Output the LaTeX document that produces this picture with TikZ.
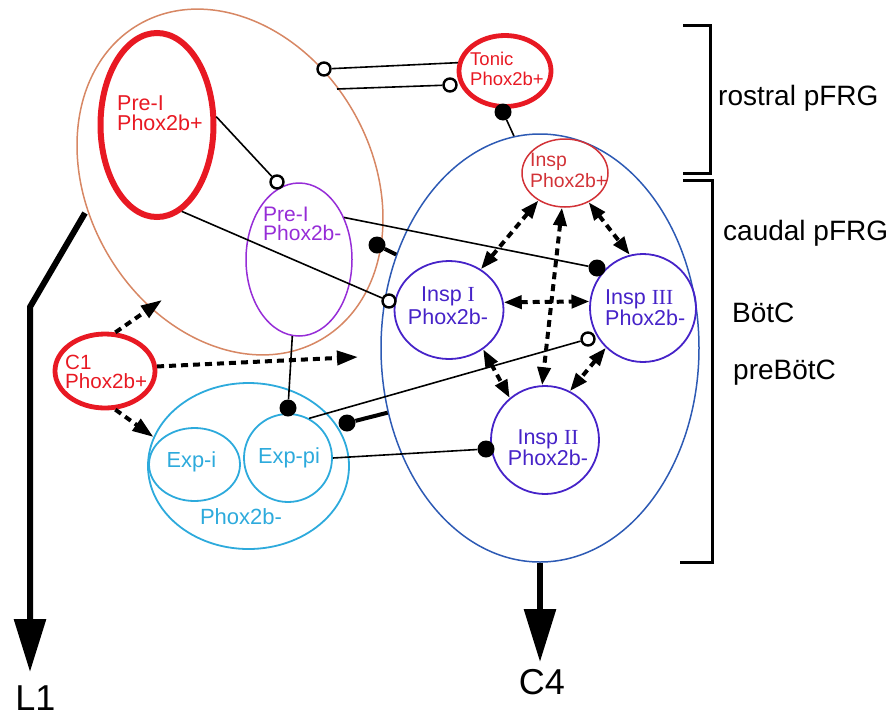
\documentclass[tikz,border=0pt]{standalone}
\usepackage{fontspec}
\setmainfont{Liberation Sans}
\newfontfamily\romfont{Liberation Serif}
\usetikzlibrary{shapes.geometric,arrows.meta}
\definecolor{cred}{RGB}{232,25,35}
\definecolor{corange}{RGB}{215,135,100}
\definecolor{cblue}{RGB}{45,90,180}
\definecolor{cindigo}{RGB}{70,35,200}
\definecolor{cpurple}{RGB}{150,45,215}
\definecolor{ccyan}{RGB}{45,170,220}
\definecolor{cired}{RGB}{210,50,55}
\begin{document}
\begin{tikzpicture}[x=1pt,y=-1pt,
  ell/.style={ellipse,inner sep=0pt,draw},
  thickred/.style={ell,draw=cred,line width=6pt},
  midred/.style={ell,draw=cred,line width=4.8pt},
  insp/.style={ell,draw=cindigo,line width=1.8pt},
  dotopen/.style={circle,draw=black,fill=white,line width=2.4pt,minimum size=13pt,inner sep=0pt},
  dotfill/.style={circle,fill=black,minimum size=17pt,inner sep=0pt},
  conn/.style={line width=1.6pt},
  stub/.style={line width=4pt},
  dasharr/.style={line width=4pt,dash pattern=on 7pt off 5pt,-{Triangle[length=21pt,width=14pt]}},
  dasharrb/.style={line width=4pt,dash pattern=on 7pt off 5pt,{Triangle[length=18pt,width=13pt]}-{Triangle[length=18pt,width=13pt]}},
  bigarr/.style={line width=6pt,-{Triangle[length=53pt,width=31pt]}},
  txt/.style={inner sep=0pt},
  side/.style={inner sep=0pt,anchor=west,font=\fontsize{28}{30}\selectfont},
  bracket/.style={line width=3pt}
]
\useasboundingbox (0,0) rectangle (896,718);

% region ellipses
\node[ell,draw=corange,line width=1.5pt,minimum width=284pt,minimum height=364pt,rotate=30] (preireg) at (230,182) {};
\node[ell,draw=cblue,line width=1.5pt,minimum width=318pt,minimum height=428pt] (blue) at (540,348) {};
\node[ell,draw=ccyan,line width=1.8pt,minimum width=201pt,minimum height=166pt] (cyan) at (248.5,466) {};

% cell groups
\node[thickred,minimum width=113pt,minimum height=184pt] (preip) at (157,125) {};
\node[midred,minimum width=92pt,minimum height=71pt] (tonic) at (505,71) {};
\node[midred,minimum width=100pt,minimum height=74pt] (c1) at (105,371) {};
\node[ell,draw=cired,line width=1.5pt,minimum width=86pt,minimum height=68pt] (inspp) at (565,173) {};
\node[insp,minimum width=109pt,minimum height=98pt] (inspi) at (449,310) {};
\node[insp,minimum width=106pt,minimum height=108pt] (inspiii) at (643,308) {};
\node[insp,minimum width=108pt,minimum height=108pt] (inspii) at (545,440) {};
\node[ell,draw=cpurple,line width=1.5pt,minimum width=106pt,minimum height=153pt] (preim) at (299,259.5) {};
\node[ell,draw=ccyan,line width=1.8pt,minimum width=91pt,minimum height=73pt] (expi) at (194.5,464.5) {};
\node[ell,draw=ccyan,line width=1.8pt,minimum width=88pt,minimum height=88pt] (exppi) at (288,458) {};

% labels
\node[txt,text=cred,align=left,anchor=west,font=\fontsize{21.5}{20}\selectfont] (tpreip) at (117,113) {Pre-I\\Phox2b+};
\node[txt,text=cred,align=left,anchor=west,font=\fontsize{18.5}{20}\selectfont] (ttonic) at (470,68.5) {Tonic\\Phox2b+};
\node[txt,text=cired,align=left,anchor=west,font=\fontsize{19.4}{21}\selectfont] (tinspp) at (530,170.5) {Insp\\Phox2b+};
\node[txt,text=cpurple,align=left,anchor=west,font=\fontsize{21}{19.5}\selectfont] (tpreim) at (263,224) {Pre-I\\Phox2b-};
\node[txt,text=cindigo,align=center,font=\fontsize{21.5}{23}\selectfont] (tinspi) at (448,306) {Insp {\romfont I}\\Phox2b-};
\node[txt,text=cindigo,align=left,anchor=west,font=\fontsize{21.5}{21}\selectfont] (tinspiii) at (605,307.5) {Insp {\romfont III}\\Phox2b-};
\node[txt,text=cindigo,align=center,font=\fontsize{21.5}{21}\selectfont] (tinspii) at (548,447.5) {Insp {\romfont II}\\Phox2b-};
\node[txt,text=cred,align=left,anchor=west,font=\fontsize{20.6}{19.5}\selectfont] (tc1) at (65,372) {C1\\Phox2b+};
\node[txt,text=ccyan,font=\fontsize{21.8}{24}\selectfont] (texpi) at (191.5,461.5) {Exp-i};
\node[txt,text=ccyan,font=\fontsize{21.8}{24}\selectfont] (texppi) at (289,458) {Exp-pi};
\node[txt,text=ccyan,font=\fontsize{22}{24}\selectfont] (tcyan) at (241,517) {Phox2b-};

\node[side] (rostral) at (718,98.7) {rostral pFRG};
\node[side] (caudal) at (723,233.7) {caudal pFRG};
\node[side] (botc) at (732,313) {BötC};
\node[side] (prebotc) at (733,372.7) {preBötC};

% synapse markers
\node[dotopen] (o1) at (324,69) {};
\node[dotopen] (o2) at (450,85) {};
\node[dotfill] (f1) at (503,112) {};
\node[dotopen] (o3) at (277,182) {};
\node[dotopen] (o4) at (389,301) {};
\node[dotfill] (f2) at (597,268) {};
\node[dotfill] (f3) at (377,245) {};
\node[dotfill] (f4) at (347,423) {};
\node[dotfill] (f5) at (288,408) {};
\node[dotopen] (o5) at (588,339) {};
\node[dotfill] (f6) at (486,449) {};

% connectors
\coordinate (c2) at (337,89);
\draw[conn] (tonic.170) -- (o1);
\draw[conn] (c2) -- (o2);
\draw[conn] (f1) -- (blue.97);
\draw[conn] (preip.8) -- (o3);
\draw[conn] (preip.-74) -- (o4);
\draw[conn] (preim.43) -- (f2);
\draw[stub] (blue.147) -- (f3);
\draw[stub] (blue.203) -- (f4);
\draw[conn] (preim.-95) -- (f5);
\draw[conn] (exppi.62) -- (o5);
\draw[conn] (exppi.0) -- (f6);

% dashed arrows
\coordinate (a1) at (162,300);
\coordinate (a2) at (358,357);
\draw[dasharr] (c1.75) -- (a1);
\draw[dasharr] (c1.5) -- (a2);
\draw[dasharr] (c1.-75) -- (cyan.163);
\draw[dasharrb] (inspp.226) -- (inspi.52);
\draw[dasharrb] (inspp.265) -- (inspii.93);
\draw[dasharrb] (inspp.-51) -- (inspiii.104);
\draw[dasharrb] (inspi.8) -- (inspiii.173);
\draw[dasharrb] (inspi.-49) -- (inspii.130);
\draw[dasharrb] (inspiii.227) -- (inspii.63);

% outputs
\coordinate (l1s) at (85,213);
\coordinate (l1b) at (30,307);
\coordinate (l1t) at (30,672);
\draw[bigarr] (l1s) -- (l1b) -- (l1t);
\node[txt,font=\fontsize{36}{40}\selectfont] (l1) at (35.5,698) {L1};
\coordinate (c4t) at (540,662);
\draw[bigarr] (blue.south) -- (c4t);
\node[txt,font=\fontsize{36}{40}\selectfont] (c4) at (542,682) {C4};

% brackets
\draw[bracket] (683,25) -- (710,25) -- (710,173) -- (683,173);
\draw[bracket] (683,180) -- (712,180) -- (712,562) -- (680,562);
\end{tikzpicture}
\end{document}
